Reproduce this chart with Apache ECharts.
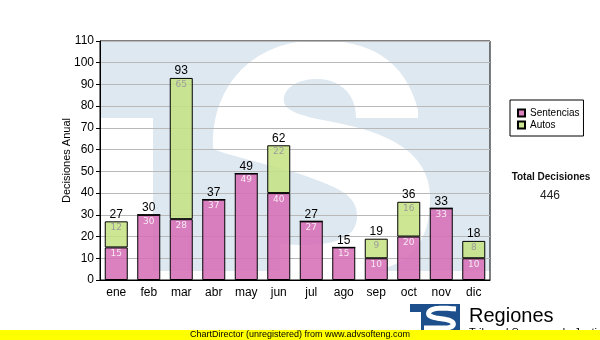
<!DOCTYPE html>
<html>
<head>
<meta charset="utf-8">
<script src="https://cdn.jsdelivr.net/npm/echarts@6/dist/echarts.min.js"></script>
<style>
  html, body { margin: 0; padding: 0; background: #fff; }
  #chart { width: 600px; height: 340px; }
</style>
</head>
<body>
<div id="chart"></div>
<script>
// Monthly decisions, split into sentences and writs
const months = ['ene', 'feb', 'mar', 'abr', 'may', 'jun', 'jul', 'ago', 'sep', 'oct', 'nov', 'dic'];
const sentencias = [15, 30, 28, 37, 49, 40, 27, 15, 10, 20, 33, 10];
const autos = [12, 0, 65, 0, 0, 22, 0, 0, 9, 16, 0, 8];
const seriesNames = ['Sentencias', 'Autos'];

// Value axis range
const yMin = 0;
const yMax = 110;
const yStep = 10;

const totals = months.map((m, i) => sentencias[i] + autos[i]);
const grandTotal = totals.reduce((a, b) => a + b, 0);

const FONT = 'Arial, "Liberation Sans", sans-serif';
const SMALL_FONT = '"DejaVu Sans", Verdana, sans-serif';

// Sample a path made of straight and cubic segments into polygon points
function samplePath(start, segs) {
  const pts = [start.slice()];
  let cur = start;
  segs.forEach(s => {
    if (s.length === 2) {
      pts.push(s.slice());
      cur = s;
    } else {
      const [c1x, c1y, c2x, c2y, x, y] = s;
      for (let k = 1; k <= 16; k++) {
        const t = k / 16, u = 1 - t;
        pts.push([
          u * u * u * cur[0] + 3 * u * u * t * c1x + 3 * u * t * t * c2x + t * t * t * x,
          u * u * u * cur[1] + 3 * u * u * t * c1y + 3 * u * t * t * c2y + t * t * t * y
        ]);
      }
      cur = [x, y];
    }
  });
  return pts;
}

// Background emblem: pale "TS" mark behind the plot
const emblemBlock = [[100, 41], [490, 41], [490, 271], [153, 271], [153, 118], [100, 118]];
const emblemS = samplePath([213, 148], [
  [210, 100, 240, 42, 317, 40],
  [370, 40, 405, 60, 418, 110],
  [418, 118],
  [356, 118],
  [356, 90, 335, 78, 315, 79],
  [292, 80, 282, 92, 284, 102],
  [286, 112, 305, 117, 333, 122],
  [385, 132, 428, 150, 430, 195],
  [432, 245, 405, 271, 360, 271],
  [280, 271],
  [280, 244],
  [330, 248, 358, 240, 357, 215],
  [356, 195, 340, 188, 300, 174],
  [260, 162, 214, 152, 213, 148]
]);

// Small logo at the bottom right
const logoS = samplePath([456, 309], [
  [445, 308, 432, 307, 429, 312],
  [426, 318, 440, 318, 448, 320],
  [456, 322, 455, 328, 445, 328],
  [424, 328]
]);

const chart = echarts.init(document.getElementById('chart'), null, { renderer: 'canvas' });

const option = {
  animation: false,
  backgroundColor: '#ffffff',
  textStyle: { fontFamily: FONT },
  grid: {
    left: 100, right: 110, top: 41, bottom: 60,
    show: true, borderColor: '#000', borderWidth: 1,
    backgroundColor: 'transparent'
  },
  legend: {
    data: seriesNames,
    orient: 'vertical',
    left: 510, top: 100,
    padding: [8, 4, 6, 7],
    itemGap: 2,
    itemWidth: 7, itemHeight: 7,
    icon: 'rect',
    borderColor: '#000', borderWidth: 1,
    textStyle: { fontSize: 10, color: '#000', fontFamily: FONT }
  },
  xAxis: {
    type: 'category',
    data: months,
    axisLine: { lineStyle: { color: '#000', width: 1 } },
    axisTick: { alignWithLabel: true, length: 4, lineStyle: { color: '#000' } },
    axisLabel: { color: '#000', fontSize: 12, margin: 7, fontFamily: FONT },
    splitLine: { show: false }
  },
  yAxis: {
    type: 'value',
    min: yMin, max: yMax, interval: yStep,
    name: 'Decisiones Anual',
    nameLocation: 'middle',
    nameGap: 28,
    nameMoveOverlap: false,
    nameTextStyle: { color: '#000', fontSize: 11, fontFamily: FONT },
    axisLine: { show: true, lineStyle: { color: '#000', width: 1 } },
    axisTick: { show: true, length: 4, lineStyle: { color: '#000' } },
    axisLabel: { color: '#000', fontSize: 12, margin: 6, fontFamily: FONT },
    splitLine: { show: true, lineStyle: { color: '#b9b9b9', width: 1 } }
  },
  series: [
    {
      name: seriesNames[0],
      type: 'bar',
      stack: 'total',
      barWidth: 23,
      data: sentencias,
      itemStyle: { color: 'rgba(214,108,182,0.86)', borderColor: '#000', borderWidth: 1 },
      label: {
        show: true, position: 'insideTop', distance: 2,
        fontSize: 9, fontFamily: SMALL_FONT, color: '#f6e8f2',
        formatter: p => (p.value ? String(p.value) : '')
      }
    },
    {
      name: seriesNames[1],
      type: 'bar',
      stack: 'total',
      barWidth: 23,
      data: autos,
      itemStyle: { color: 'rgba(196,226,128,0.85)', borderColor: '#000', borderWidth: 1 },
      label: {
        show: true, position: 'insideTop', distance: 2,
        fontSize: 9, fontFamily: SMALL_FONT, color: '#9c9c9c',
        formatter: p => (p.value ? String(p.value) : '')
      }
    },
    {
      name: 'total',
      type: 'bar',
      stack: 'total',
      barWidth: 23,
      data: months.map(() => 0),
      itemStyle: { color: 'transparent', borderWidth: 0 },
      label: {
        show: true, position: 'top', distance: 1,
        fontSize: 12, fontFamily: FONT, color: '#000',
        formatter: p => String(totals[p.dataIndex])
      },
      silent: true
    }
  ],
  graphic: [
    { type: 'polygon', z: -5, silent: true, shape: { points: emblemBlock }, style: { fill: '#dee8f1' } },
    { type: 'polygon', z: -4, silent: true, shape: { points: emblemS }, style: { fill: '#ffffff' } },
    {
      type: 'text', silent: true,
      style: { x: 551, y: 177, text: 'Total Decisiones', font: 'bold 10px ' + FONT, fill: '#111', align: 'center', verticalAlign: 'middle' }
    },
    {
      type: 'text', silent: true,
      style: { x: 550, y: 196, text: String(grandTotal), font: '12px ' + FONT, fill: '#222', align: 'center', verticalAlign: 'middle' }
    },
    { type: 'rect', silent: true, shape: { x: 410, y: 304, width: 50, height: 26 }, style: { fill: '#1d4f8c' } },
    { type: 'rect', silent: true, z: 1, shape: { x: 410, y: 312, width: 11, height: 18 }, style: { fill: '#ffffff' } },
    { type: 'polyline', silent: true, z: 2, shape: { points: logoS }, style: { stroke: '#ffffff', lineWidth: 5, fill: null } },
    {
      type: 'text', silent: true,
      style: { x: 469, y: 316, text: 'Regiones', font: '20px ' + FONT, fill: '#000', align: 'left', verticalAlign: 'middle' }
    },
    {
      type: 'text', silent: true,
      style: { x: 469, y: 327, text: 'Tribunal Supremo de Justicia', font: '11px ' + FONT, fill: '#000', align: 'left', verticalAlign: 'top' }
    },
    { type: 'rect', silent: true, z: 10, shape: { x: 0, y: 330, width: 600, height: 10 }, style: { fill: '#ffff00' } },
    {
      type: 'text', silent: true, z: 11,
      style: { x: 300, y: 335, text: 'ChartDirector (unregistered) from www.advsofteng.com', font: '9px ' + FONT, fill: '#000', align: 'center', verticalAlign: 'middle' }
    }
  ]
};

chart.setOption(option);
</script>
</body>
</html>
